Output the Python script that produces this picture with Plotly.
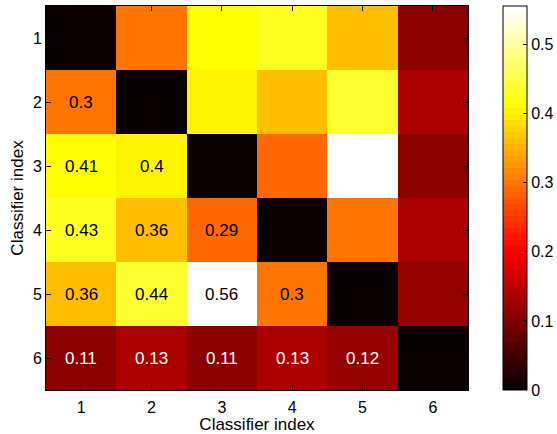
import plotly.graph_objects as go

# ---- data ----
classifiers = [1, 2, 3, 4, 5, 6]
tick_labels = ["1", "2", "3", "4", "5", "6"]
# lower-triangle pairwise values (row i, columns 1..i-1)
row2 = [0.30]
row3 = [0.41, 0.40]
row4 = [0.43, 0.36, 0.29]
row5 = [0.36, 0.44, 0.556, 0.30]
row6 = [0.11, 0.133, 0.11, 0.133, 0.12]
cbar_ticks = [0, 0.1, 0.2, 0.3, 0.4, 0.5]

lower = [[], row2, row3, row4, row5, row6]
n = len(classifiers)
z = [[0.0] * n for _ in range(n)]
for i in range(n):
    for j, v in enumerate(lower[i]):
        z[i][j] = v
        z[j][i] = v

# ---- MATLAB 'hot' colormap, 64 levels, discrete ----
N = 64
n1 = 24
cols = []
for k in range(N):
    r = min((k + 1) / n1, 1.0)
    g = 0.0 if k < n1 else min((k - n1 + 1) / n1, 1.0)
    b = 0.0 if k < 2 * n1 else (k - 2 * n1 + 1) / (N - 2 * n1)
    cols.append(f"rgb({round(r*255)},{round(g*255)},{round(b*255)})")
colorscale = []
for k, c in enumerate(cols):
    colorscale.append([k / N, c])
    colorscale.append([(k + 1) / N, c])

zmax = max(max(r) for r in z)

font_family = "Liberation Sans, Arial, Helvetica, sans-serif"

fig = go.Figure(go.Heatmap(
    x=classifiers, y=classifiers, z=z,
    zmin=0, zmax=zmax,
    colorscale=colorscale,
    colorbar=dict(
        x=1.0818, xanchor="left", xpad=0, ypad=0,
        y=0.5, yanchor="middle", len=1, lenmode="fraction",
        thickness=24, outlinewidth=1, outlinecolor="black",
        ticks="inside", ticklen=4, tickcolor="black",
        tickvals=cbar_ticks, ticktext=[f"{t:g}" for t in cbar_ticks],
        tickfont=dict(size=16, color="black", family=font_family),
    ),
    hoverinfo="skip",
))

annotations = []
for i in range(n):
    for j, v in enumerate(lower[i]):
        annotations.append(dict(
            x=classifiers[j], y=classifiers[i], xref="x", yref="y",
            text=f"{round(v, 2):g}", showarrow=False,
            font=dict(size=17, color="white" if v < 0.2 else "black", family=font_family),
        ))

fig.update_layout(
    width=557, height=434,
    margin=dict(l=46, r=89, t=6, b=44, autoexpand=False),
    paper_bgcolor="white", plot_bgcolor="white",
    font=dict(family=font_family, color="black", size=16),
    annotations=annotations,
    xaxis=dict(
        tickvals=classifiers, ticktext=tick_labels,
        showline=True, linecolor="black", linewidth=1, mirror="ticks",
        ticks="inside", ticklen=5, tickcolor="black",
        showgrid=False, zeroline=False, automargin=True,
        tickfont=dict(size=16), ticklabelstandoff=3,
        title=dict(text="Classifier index", font=dict(size=17), standoff=3),
        range=[0.5, 6.5],
    ),
    yaxis=dict(
        tickvals=classifiers, ticktext=tick_labels,
        showline=True, linecolor="black", linewidth=1, mirror="ticks",
        ticks="inside", ticklen=5, tickcolor="black",
        showgrid=False, zeroline=False, automargin=True,
        tickfont=dict(size=16),
        title=dict(text="Classifier index", font=dict(size=17), standoff=4),
        range=[6.5, 0.5],
    ),
)

fig.write_html("out.html")
